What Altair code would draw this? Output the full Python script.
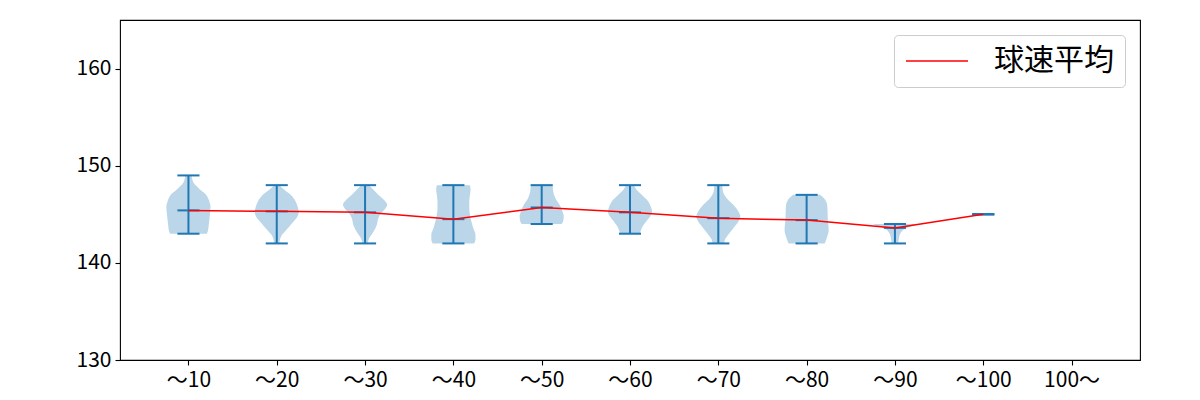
import json
import altair as alt
import pandas as pd

categories = ["～10", "～20", "～30", "～40", "～50", "～60", "～70", "～80", "～90", "～100", "100～"]
min_speed = [143, 142, 142, 142, 144, 143, 142, 142, 142, 145]
max_speed = [149, 148, 148, 148, 148, 148, 148, 147, 144, 145]
mean_speed = [145.4, 145.3, 145.2, 144.5, 145.7, 145.2, 144.6, 144.4, 143.6, 145.0]

# violin outlines: speed levels and relative half-width (1 = widest)
violin_speed = [
    [143.0, 143.2, 144.1, 144.95, 145.8, 146.3, 147.0, 147.7, 148.4, 149.0],
    [142.0, 142.7, 143.4, 144.1, 144.77, 145.29, 145.6, 146.3, 147.0, 147.53, 148.0],
    [142.0, 142.5, 143.2, 143.9, 144.6, 145.1, 145.6, 145.98, 146.5, 147.0, 147.53, 148.0],
    [142.0, 142.4, 142.9, 143.6, 144.3, 144.95, 145.6, 146.3, 147.0, 147.53, 148.0],
    [144.0, 144.26, 144.77, 145.29, 145.98, 146.66, 147.35, 148.0],
    [143.0, 143.57, 144.26, 144.77, 145.29, 145.6, 146.3, 147.0, 147.53, 148.0],
    [142.0, 142.4, 142.9, 143.57, 144.26, 144.77, 145.29, 145.98, 146.66, 147.35, 148.0],
    [142.0, 142.54, 143.4, 144.43, 145.8, 146.5, 147.0],
    [142.0, 142.54, 143.05, 143.57, 143.8, 144.0],
]
violin_width = [
    [0.83, 0.87, 0.93, 0.97, 1.0, 0.95, 0.8, 0.45, 0.2, 0.15],
    [0.12, 0.19, 0.44, 0.7, 0.94, 1.0, 0.97, 0.86, 0.63, 0.34, 0.12],
    [0.12, 0.18, 0.38, 0.53, 0.6, 0.72, 0.92, 1.0, 0.85, 0.6, 0.38, 0.18],
    [0.94, 1.0, 1.0, 0.9, 0.81, 0.75, 0.72, 0.72, 0.75, 0.78, 0.75],
    [0.9, 0.97, 1.0, 0.94, 0.81, 0.62, 0.52, 0.5],
    [0.45, 0.53, 0.73, 0.91, 1.0, 0.97, 0.83, 0.53, 0.3, 0.18],
    [0.27, 0.3, 0.45, 0.68, 0.91, 1.0, 0.91, 0.68, 0.38, 0.21, 0.18],
    [0.82, 0.91, 1.0, 0.96, 0.94, 0.84, 0.61],
    [0.15, 0.18, 0.25, 0.5, 0.8, 1.0],
]

HALF = 0.25   # half of the violin width (x units)
CAP = 0.125   # half of the cap length

rows = []
for i, (sp, wd) in enumerate(zip(violin_speed, violin_width)):
    pos = i + 1
    for s, w in zip(sp, wd):
        rows.append({"cat": categories[i], "speed": s,
                     "x0": pos - HALF * w, "x1": pos + HALF * w})
body_df = pd.DataFrame(rows)

stat_df = pd.DataFrame({
    "pos": list(range(1, len(min_speed) + 1)),
    "min": min_speed, "max": max_speed, "mean": mean_speed,
})
stat_df["l"] = stat_df["pos"] - CAP
stat_df["r"] = stat_df["pos"] + CAP
stat_df["label"] = "球速平均"

label_js = json.dumps(categories, ensure_ascii=False)

xscale = alt.Scale(domain=[0.225, 11.775], nice=False, zero=False)
yscale = alt.Scale(domain=[130, 165], nice=False, zero=False)
xaxis = alt.Axis(values=list(range(1, len(categories) + 1)),
                 labelExpr=f"{label_js}[datum.value - 1]", title=None,
                 grid=False, domain=False, labelFlush=False)
yaxis = alt.Axis(values=[130, 140, 150, 160], title=None, grid=False, domain=False)

BLUE = "#1f77b4"

bodies = alt.Chart(body_df).mark_area(
    orient="horizontal", interpolate="monotone", color=BLUE, opacity=0.3
).encode(
    y=alt.Y("speed:Q", scale=yscale, axis=yaxis),
    x=alt.X("x0:Q", scale=xscale, axis=xaxis),
    x2="x1:Q",
    detail="cat:N",
)

base = alt.Chart(stat_df)
vbar = base.mark_rule(color=BLUE, strokeWidth=2).encode(
    x=alt.X("pos:Q", scale=xscale, axis=xaxis),
    y=alt.Y("min:Q", scale=yscale, axis=yaxis), y2="max:Q")
cap_min = base.mark_rule(color=BLUE, strokeWidth=2).encode(
    x=alt.X("l:Q", scale=xscale), x2="r:Q", y=alt.Y("min:Q", scale=yscale))
cap_max = base.mark_rule(color=BLUE, strokeWidth=2).encode(
    x=alt.X("l:Q", scale=xscale), x2="r:Q", y=alt.Y("max:Q", scale=yscale))
cap_mean = base.mark_rule(color=BLUE, strokeWidth=2).encode(
    x=alt.X("l:Q", scale=xscale), x2="r:Q", y=alt.Y("mean:Q", scale=yscale))

mean_line = base.mark_line(strokeWidth=1.5).encode(
    x=alt.X("pos:Q", scale=xscale),
    y=alt.Y("mean:Q", scale=yscale),
    color=alt.Color("label:N",
                    scale=alt.Scale(domain=["球速平均"], range=["red"]),
                    legend=alt.Legend(title=None, orient="top-right", offset=15,
                                      symbolType="M-1,0H3.43", symbolSize=784,
                                      symbolStrokeWidth=1.5,
                                      labelFontSize=30, labelFont="Noto Sans CJK JP",
                                      labelColor="black", labelOffset=59,
                                      padding=11, strokeColor="#cccccc",
                                      fillColor="white", cornerRadius=4)),
)

chart = alt.layer(bodies, vbar, cap_min, cap_max, cap_mean, mean_line).properties(
    width=1020, height=340,
    autosize=alt.AutoSizeParams(type="none"),
    padding={"left": 120, "top": 20, "right": 60, "bottom": 40},
).configure_view(
    stroke="black", strokeWidth=1.1
).configure_axis(
    labelFont="Noto Sans CJK JP", labelFontSize=21, labelColor="black",
    tickColor="black", tickSize=5, tickWidth=1.1, labelPadding=4,
)

chart.save("out.html", embed_options={"renderer": "svg", "actions": False})
